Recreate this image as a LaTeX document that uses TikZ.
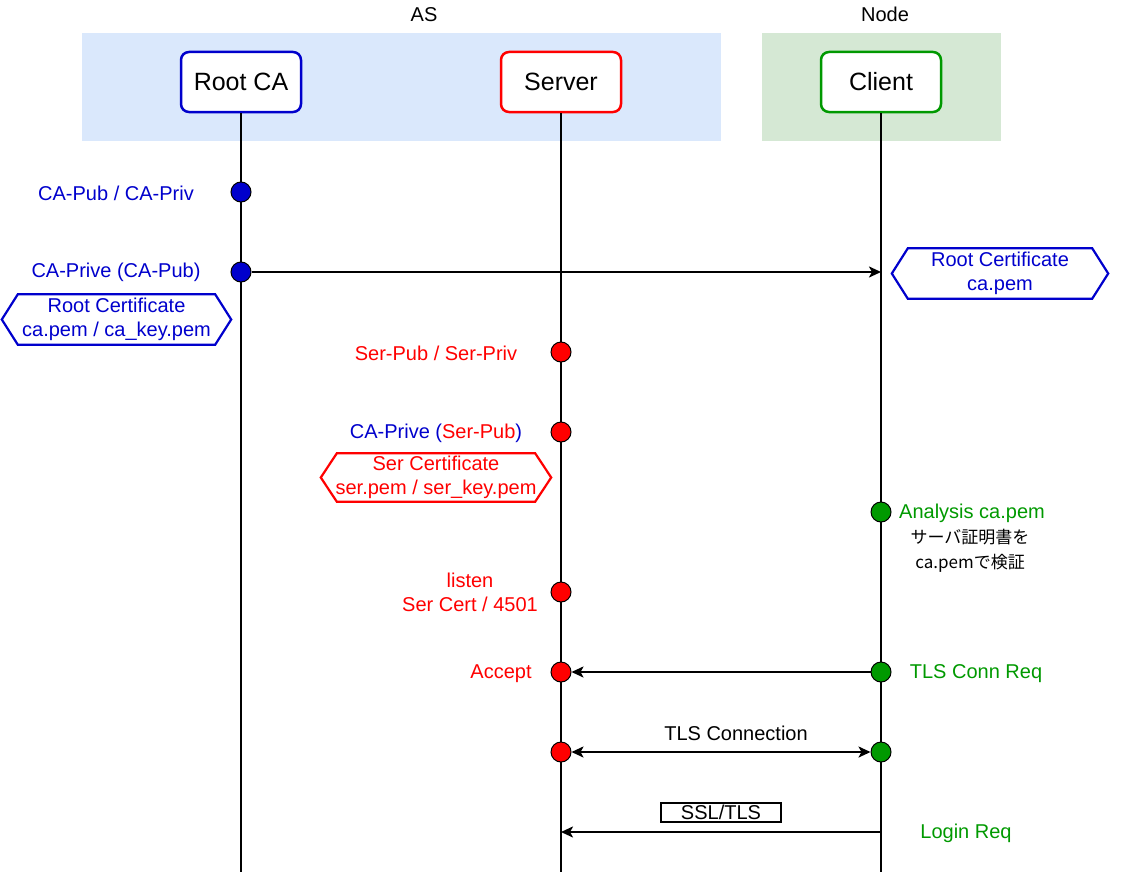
\documentclass[tikz,border=0pt]{standalone}
\usepackage{fontspec}
\setmainfont{Liberation Sans}
\newfontfamily\jpfont{Noto Sans CJK JP}
\usetikzlibrary{arrows.meta}
\definecolor{rootblue}{RGB}{0, 0, 204}
\definecolor{serred}{RGB}{255, 0, 0}
\definecolor{cligreen}{RGB}{0, 153, 0}
\definecolor{asfill}{HTML}{DAE8FC}
\definecolor{nodefill}{HTML}{D5E8D4}

\tikzset{
    actor/.style={draw, rounded corners=8pt, line width=2.5pt, fill=white, minimum width=120pt, minimum height=60pt, font=\fontsize{25}{30}\selectfont},
    lifeline/.style={line width=2.5pt},
    dot/.style={draw=black, circle, line width=1pt, minimum size=20pt, inner sep=0pt},
    msg/.style={line width=2.2pt, -{Stealth[length=12pt, width=11pt, inset=3pt]}},
    lbl/.style={font=\fontsize{20}{24}\selectfont, align=center, inner sep=0pt, yshift=-1.5pt},
    hexa/.style={lbl, minimum height=50pt},
}

% hexagon frame around a named node: name, colour
\newcommand{\hexframe}[2]{
    \draw[line width=2.2pt, #2] ([xshift=16pt]#1.north west) -- ([xshift=-16pt]#1.north east) -- (#1.east)
        -- ([xshift=-16pt]#1.south east) -- ([xshift=16pt]#1.south west) -- (#1.west) -- cycle;
}

\begin{document}
\begin{tikzpicture}[x=1pt, y=-1pt]
            \pgfmathsetmacro{\caCol}{241}
            \pgfmathsetmacro{\serCol}{561}
            \pgfmathsetmacro{\cliCol}{881}

            \useasboundingbox (0, 0) rectangle (1123, 875);

            % group backgrounds
            \fill[asfill] (82, 33) rectangle (721, 141);
            \fill[nodefill] (762, 33) rectangle (1001, 141);
            \node[lbl] (asname) at (424, 13) {AS};
            \node[lbl] (nodename) at (885, 13) {Node};

            % actors
            \node[actor, draw=rootblue] (rootca) at (\caCol, 82) {Root CA};
            \node[actor, draw=serred] (server) at (\serCol, 82) {Server};
            \node[actor, draw=cligreen] (client) at (\cliCol, 82) {Client};

            % lifelines
            \coordinate (caend) at (\caCol, 872);
            \coordinate (serend) at (\serCol, 872);
            \coordinate (cliend) at (\cliCol, 872);
            \draw[lifeline] (rootca) -- (caend);
            \draw[lifeline] (server) -- (serend);
            \draw[lifeline] (client) -- (cliend);

            % root ca
            \foreach \i/\y in {1/192, 2/272}
            \node[dot, fill=rootblue] (ca\i) at (\caCol, \y) {};
            \node[lbl, text=rootblue] (cakeys) at (116, 192) {CA-Pub / CA-Priv};
            \node[lbl, text=rootblue] (casign) at (116, 271) {CA-Prive (CA-Pub)};
            \node[hexa, text=rootblue, minimum width=229pt] (cacert) at (116.5, 318) {Root Certificate\\ca.pem / ca\_key.pem};
            \hexframe{cacert}{rootblue}

            % server
            \foreach \i/\y in {1/352, 2/432, 3/592, 4/672, 5/752}
            \node[dot, fill=serred] (ser\i) at (\serCol, \y) {};
            \node[lbl, text=serred] (serkeys) at (436, 352) {Ser-Pub / Ser-Priv};
            \node[lbl, text=rootblue] (sersign) at (436, 432) {CA-Prive ({\color{serred}Ser-Pub})};
            \node[hexa, text=serred, minimum width=230pt, minimum height=48pt] (sercert) at (436, 476) {Ser Certificate\\ser.pem / ser\_key.pem};
            \hexframe{sercert}{serred}
            \node[lbl, text=serred] (listen) at (470, 591) {listen\\Ser Cert / 4501};
            \node[lbl, text=serred] (accept) at (501, 672) {Accept};

            % client
            \foreach \i/\y in {1/512, 2/672, 3/752}
            \node[dot, fill=cligreen] (cli\i) at (\cliCol, \y) {};
            \node[hexa, text=rootblue, minimum width=216pt] (clicert) at (1000, 272) {Root Certificate\\ca.pem};
            \hexframe{clicert}{rootblue}
            \node[lbl, text=cligreen, anchor=west] (analysis) at (899, 512) {Analysis ca.pem};
            \node[align=center, inner sep=0pt, font=\jpfont\fontsize{17}{25}\selectfont] (verify) at (970, 551) {サーバ証明書を\\ca.pemで検証};
            \node[lbl, text=cligreen] (connreq) at (976, 672) {TLS Conn Req};
            \node[lbl, text=cligreen] (loginreq) at (966, 832) {Login Req};

            % messages
            \coordinate (clica) at (\cliCol, 272);
            \draw[msg] (ca2) -- (clica);
            \draw[msg] (cli2) -- (ser4);
            \draw[msg, {Stealth[length=12pt, width=11pt, inset=3pt]}-{Stealth[length=12pt, width=11pt, inset=3pt]}] (ser5) -- (cli3);
            \node[lbl] (tlsconn) at (736, 732) {TLS Connection};

            \coordinate (clilogin) at (\cliCol, 832);
            \coordinate (serlogin) at (\serCol, 832);
            \draw[msg] (clilogin) -- (serlogin);
            \node[lbl, draw, line width=2.2pt, minimum width=120pt, minimum height=19pt, yshift=1.5pt] (ssl) at (721, 812.5) {SSL/TLS};

        \end{tikzpicture}
\end{document}
